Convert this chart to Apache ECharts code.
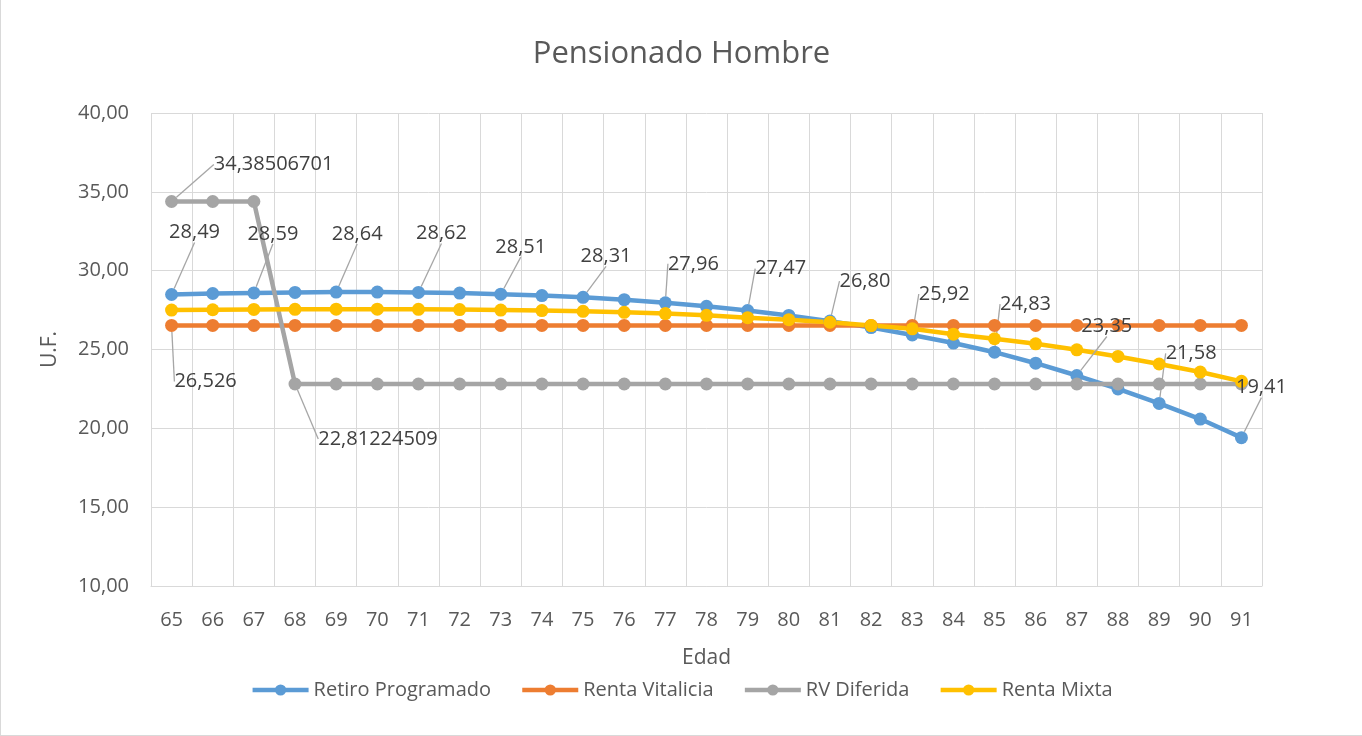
<!DOCTYPE html>
<html>
<head>
<meta charset="utf-8">
<script src="https://cdn.jsdelivr.net/npm/echarts@6/dist/echarts.min.js"></script>
<style>
  html, body { margin: 0; padding: 0; background: #fff; }
  #chart { width: 1362px; height: 736px; box-sizing: border-box; border: 1px solid #d9d9d9; border-top: none; border-right: none; }
</style>
</head>
<body>
<div id="chart"></div>
<script>
// datos
var edades = ['65','66','67','68','69','70','71','72','73','74','75','76','77','78','79','80','81','82','83','84','85','86','87','88','89','90','91'];
var retiroProgramado = [28.49, 28.55, 28.59, 28.62, 28.64, 28.64, 28.62, 28.58, 28.51, 28.42, 28.31, 28.16, 27.96, 27.74, 27.47, 27.16, 26.80, 26.39, 25.92, 25.41, 24.83, 24.13, 23.35, 22.50, 21.58, 20.59, 19.41];
var rentaVitalicia = [26.526, 26.526, 26.526, 26.526, 26.526, 26.526, 26.526, 26.526, 26.526, 26.526, 26.526, 26.526, 26.526, 26.526, 26.526, 26.526, 26.526, 26.526, 26.526, 26.526, 26.526, 26.526, 26.526, 26.526, 26.526, 26.526, 26.526];
var rvDiferida = [34.38506701, 34.38506701, 34.38506701, 22.81224509, 22.81224509, 22.81224509, 22.81224509, 22.81224509, 22.81224509, 22.81224509, 22.81224509, 22.81224509, 22.81224509, 22.81224509, 22.81224509, 22.81224509, 22.81224509, 22.81224509, 22.81224509, 22.81224509, 22.81224509, 22.81224509, 22.81224509, 22.81224509, 22.81224509, 22.81224509, 22.81224509];
var rentaMixta = [27.50, 27.52, 27.54, 27.55, 27.56, 27.56, 27.55, 27.53, 27.50, 27.47, 27.42, 27.36, 27.28, 27.17, 27.02, 26.89, 26.73, 26.52, 26.31, 25.97, 25.68, 25.36, 24.98, 24.56, 24.08, 23.57, 22.98];

// etiquetas visibles (indices)
var labelsRetiro = [0, 2, 4, 6, 8, 10, 12, 14, 16, 18, 20, 22, 24, 26];
var labelsVitalicia = [0];
var labelsDiferida = [0, 3];

var FONT = 'Open Sans';
var coma = function (v, d) { return d == null ? String(v).replace('.', ',') : v.toFixed(d).replace('.', ','); };

// desplazamiento de etiquetas (dx, dy) respecto al punto
var offRetiro = {
    0: [23, -62], 2: [19, -59], 4: [21, -58], 6: [23, -59], 8: [20, -47],
    10: [23, -41], 12: [28, -39], 14: [33, -42], 16: [35, -40], 18: [32, -41],
    20: [31, -48], 22: [30, -49], 24: [32, -50], 26: [20, -50]
};
var desplaza = {
    0: function (i) { return offRetiro[i] || [0, 0]; },
    1: function () { return [34, 56]; },
    2: function (i) { return i === 0 ? [102, -37] : [83, 55]; }
};

function armarDatos(valores, visibles, decimales) {
    return valores.map(function (v, i) {
        var item = { value: v };
        if (visibles.indexOf(i) >= 0) {
            item.label = {
                show: true,
                formatter: function () { return coma(v, decimales); }
            };
            item.labelLine = { show: true };
        }
        return item;
    });
}

function serie(nombre, color, datos) {
    return {
        type: 'line',
        name: nombre,
        data: datos,
        symbol: 'circle',
        symbolSize: 13,
        lineStyle: { width: 4.5, color: color },
        itemStyle: { color: color },
        label: { show: false, position: 'inside', fontFamily: FONT, fontSize: 20, color: '#404040' },
        labelLine: { show: false, lineStyle: { color: '#a6a6a6', width: 1.3 } },
        emphasis: { disabled: true },
        animation: false
    };
}

var chart = echarts.init(document.getElementById('chart'));

var option = {
    backgroundColor: '#fff',
    title: {
        text: 'Pensionado Hombre',
        left: 'center',
        top: 34,
        textStyle: { fontFamily: FONT, fontSize: 31, fontWeight: 'normal', color: '#595959' }
    },
    legend: {
        bottom: 30,
        left: 'center',
        itemWidth: 56,
        itemHeight: 14,
        itemGap: 29,
        lineStyle: { width: 4.5 },
        textStyle: { fontFamily: FONT, fontSize: 20, color: '#595959' },
        data: ['Retiro Programado', 'Renta Vitalicia', 'RV Diferida', 'Renta Mixta']
    },
    grid: { left: 150, right: 100, top: 113, bottom: 149, containLabel: false },
    xAxis: {
        type: 'category',
        data: edades,
        boundaryGap: true,
        name: 'Edad',
        nameLocation: 'middle',
        nameGap: 62,
        nameTextStyle: { fontFamily: FONT, fontSize: 21, color: '#595959' },
        axisTick: { show: false },
        axisLine: { lineStyle: { color: '#d9d9d9', width: 1 } },
        axisLabel: { fontFamily: FONT, fontSize: 20, color: '#595959', margin: 24 },
        splitLine: { show: true, lineStyle: { color: '#d9d9d9', width: 1 } }
    },
    yAxis: {
        type: 'value',
        min: 10,
        max: 40,
        interval: 5,
        name: 'U.F.',
        nameLocation: 'middle',
        nameGap: 90,
        nameTextStyle: { fontFamily: FONT, fontSize: 21, color: '#595959' },
        axisLine: { show: false },
        axisTick: { show: false },
        axisLabel: { fontFamily: FONT, fontSize: 20, color: '#595959', margin: 22, formatter: function (v) { return coma(v, 2); } },
        splitLine: { lineStyle: { color: '#d9d9d9', width: 1 } }
    },
    labelLayout: function (p) {
        var f = desplaza[p.seriesIndex];
        if (!f) return {};
        var d = f(p.dataIndex);
        return { dx: d[0], dy: d[1] };
    },
    series: [
        serie('Retiro Programado', '#5B9BD5', armarDatos(retiroProgramado, labelsRetiro, 2)),
        serie('Renta Vitalicia', '#ED7D31', armarDatos(rentaVitalicia, labelsVitalicia, null)),
        serie('RV Diferida', '#A5A5A5', armarDatos(rvDiferida, labelsDiferida, null)),
        serie('Renta Mixta', '#FFC000', armarDatos(rentaMixta, [], 2))
    ]
};

chart.setOption(option);
</script>
</body>
</html>
